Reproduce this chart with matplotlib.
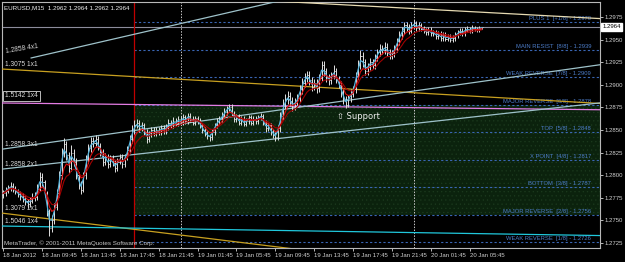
import matplotlib.pyplot as plt
import numpy as np
import pandas as pd

plt.rcParams['font.family'] = ['Liberation Sans', 'DejaVu Sans']
plt.rcParams['hatch.linewidth'] = 0.4

# EURUSD M15, bars from 18 Jan 2012 05:45, prices in points (1.2780 -> 12780)
close = [12780, 12783, 12786, 12788, 12785, 12782, 12779, 12777, 12774, 12771,
         12768, 12772, 12776, 12776, 12785, 12798, 12792, 12780, 12760, 12742,
         12750, 12765, 12780, 12800, 12825, 12835, 12822, 12808, 12825, 12815,
         12800, 12790, 12784, 12800, 12818, 12830, 12838, 12836, 12840, 12832,
         12826, 12815, 12820, 12812, 12818, 12814, 12808, 12815, 12820, 12812,
         12820, 12828, 12840, 12850, 12856, 12858, 12852, 12855, 12848, 12840,
         12845, 12850, 12846, 12850, 12848, 12852, 12849, 12853, 12858, 12855,
         12860, 12857, 12862, 12859, 12864, 12860, 12866, 12862, 12858, 12863,
         12860, 12855, 12850, 12846, 12843, 12842, 12848, 12855, 12860, 12862,
         12866, 12870, 12874, 12876, 12868, 12862, 12865, 12858, 12862, 12857,
         12860, 12864, 12858, 12862, 12860, 12864, 12866, 12858, 12852, 12855,
         12848, 12845, 12842, 12852, 12865, 12878, 12884, 12888, 12882, 12876,
         12880, 12885, 12895, 12902, 12908, 12911, 12905, 12898, 12902, 12896,
         12908, 12922, 12915, 12908, 12905, 12910, 12915, 12906, 12900, 12892,
         12884, 12878, 12885, 12890, 12895, 12910, 12922, 12932, 12925, 12915,
         12920, 12925, 12922, 12930, 12936, 12940, 12938, 12942, 12936, 12932,
         12935, 12940, 12948, 12955, 12960, 12966, 12964, 12960, 12966, 12968,
         12963, 12966, 12962, 12960, 12958, 12961, 12957, 12958, 12954, 12956,
         12952, 12955, 12951, 12953, 12950, 12952, 12955, 12958, 12960, 12957,
         12961, 12962, 12960, 12963, 12962, 12961, 12962, 12964]
high = [12784, 12787, 12789, 12792, 12791, 12788, 12785, 12782, 12780, 12777,
        12774, 12776, 12780, 12781, 12790, 12804, 12803, 12795, 12783, 12763,
        12756, 12769, 12785, 12805, 12830, 12841, 12838, 12826, 12833, 12829,
        12819, 12804, 12794, 12804, 12822, 12835, 12842, 12842, 12844, 12843,
        12836, 12829, 12825, 12823, 12822, 12822, 12817, 12819, 12824, 12823,
        12824, 12832, 12845, 12856, 12861, 12862, 12861, 12859, 12858, 12851,
        12849, 12853, 12853, 12853, 12853, 12855, 12855, 12857, 12862, 12861,
        12864, 12863, 12866, 12865, 12868, 12867, 12869, 12869, 12865, 12866,
        12866, 12863, 12858, 12853, 12849, 12846, 12851, 12858, 12863, 12866,
        12870, 12874, 12877, 12879, 12879, 12871, 12868, 12868, 12865, 12865,
        12863, 12867, 12867, 12865, 12865, 12867, 12869, 12868, 12861, 12858,
        12858, 12851, 12848, 12856, 12870, 12884, 12890, 12893, 12892, 12886,
        12885, 12890, 12900, 12907, 12913, 12915, 12915, 12909, 12906, 12906,
        12912, 12926, 12926, 12919, 12912, 12914, 12922, 12919, 12910, 12904,
        12896, 12888, 12889, 12895, 12899, 12914, 12927, 12938, 12936, 12929,
        12924, 12930, 12929, 12934, 12940, 12945, 12944, 12947, 12946, 12940,
        12939, 12944, 12952, 12959, 12964, 12970, 12969, 12967, 12970, 12972,
        12971, 12969, 12968, 12965, 12963, 12964, 12964, 12961, 12961, 12959,
        12959, 12958, 12958, 12956, 12956, 12955, 12958, 12961, 12963, 12963,
        12964, 12965, 12964, 12966, 12965, 12964, 12965, 12964]
low = [12775, 12777, 12780, 12783, 12781, 12779, 12776, 12773, 12770, 12767,
       12764, 12765, 12769, 12771, 12773, 12782, 12788, 12776, 12755, 12733,
       12737, 12746, 12761, 12776, 12796, 12820, 12817, 12803, 12805, 12810,
       12796, 12785, 12779, 12781, 12796, 12814, 12826, 12831, 12832, 12828,
       12821, 12810, 12811, 12808, 12809, 12810, 12804, 12805, 12812, 12808,
       12809, 12817, 12825, 12836, 12846, 12852, 12848, 12849, 12844, 12836,
       12837, 12842, 12843, 12843, 12845, 12845, 12846, 12846, 12850, 12852,
       12852, 12854, 12854, 12856, 12856, 12857, 12857, 12859, 12855, 12855,
       12857, 12852, 12847, 12843, 12840, 12838, 12839, 12845, 12852, 12857,
       12859, 12863, 12867, 12871, 12865, 12859, 12859, 12855, 12855, 12854,
       12854, 12857, 12855, 12855, 12857, 12857, 12861, 12855, 12848, 12849,
       12845, 12841, 12838, 12839, 12848, 12861, 12873, 12879, 12877, 12871,
       12872, 12876, 12881, 12890, 12898, 12903, 12900, 12893, 12894, 12891,
       12892, 12904, 12910, 12903, 12900, 12901, 12906, 12902, 12896, 12887,
       12879, 12874, 12875, 12881, 12886, 12891, 12906, 12918, 12920, 12911,
       12911, 12916, 12918, 12918, 12926, 12932, 12934, 12934, 12932, 12928,
       12928, 12931, 12936, 12944, 12951, 12956, 12960, 12956, 12957, 12963,
       12960, 12960, 12959, 12957, 12955, 12955, 12954, 12954, 12951, 12951,
       12949, 12949, 12948, 12948, 12947, 12947, 12949, 12952, 12955, 12954,
       12954, 12958, 12957, 12957, 12959, 12958, 12958, 12962]
first_open = 12778

xtick_bars = [0, 16, 32, 48, 64, 80, 96, 112, 128, 144, 160, 176, 192]
xtick_labels = ['18 Jan 2012', '18 Jan 09:45', '18 Jan 13:45', '18 Jan 17:45',
                '18 Jan 21:45', '19 Jan 01:45', '19 Jan 05:45', '19 Jan 09:45',
                '19 Jan 13:45', '19 Jan 17:45', '19 Jan 21:45', '20 Jan 01:45',
                '20 Jan 05:45']
ytick_vals = [1.2725, 1.2750, 1.2775, 1.2800, 1.2825, 1.2850, 1.2875,
              1.2900, 1.2925, 1.2950, 1.2975]

# Murrey math levels
mm_levels = [1.2970, 1.2939, 1.2909, 1.2878, 1.2848, 1.2817, 1.2787, 1.2756, 1.2726]
mm_names = ['PLUS 1  [+1/8]', 'MAIN RESIST  [8/8]', 'WEAK REVERSE  [7/8]',
            'MAJOR REVERSE  [6/8]', 'TOP  [5/8]', 'X POINT  [4/8]',
            'BOTTOM  [3/8]', 'MAJOR REVERSE  [2/8]', 'WEAK REVERSE  [1/8]']
mm_start_bar = 54
day_bars = [73, 169]
bid = 1.2964

# gann lines: (bar, price) -> (bar, price)
gann_names = ['1.2858 4x1', '1.3075 1x1', '1.5142 1x4', '1.2858 3x1',
              '1.2858 2x1', '1.3079 1x1', '1.5046 1x4', '']
gann_b0 = [11.5, -0.8, -0.8, 0.0, 0.0, -0.8, -0.8, 100.0]
gann_p0 = [1.29297, 1.29175, 1.28799, 1.28290, 1.28069, 1.27582, 1.27438, 1.29943]
gann_b1 = [115.2, 256.4, 256.4, 256.4, 256.4, 119.8, 256.4, 256.4]
gann_p1 = [1.29938, 1.28777, 1.28721, 1.29263, 1.28832, 1.27184, 1.27328, 1.29717]
gann_colors = ['#9ec2ca', '#c8a020', '#e47ce4', '#9ec2ca', '#9ec2ca',
               '#c8a020', '#20c8dc', '#e6dab2']

c = np.array(close) / 1e4
h = np.array(high) / 1e4
l = np.array(low) / 1e4
o = np.concatenate([[first_open / 1e4], c[:-1]])
x = np.arange(len(c))

fig = plt.figure(figsize=(6.25, 2.62), dpi=100, facecolor='black')
ax = fig.add_axes([2 / 625, 14 / 262, 598 / 625, 246 / 262], facecolor='black')
ax.set_xlim(-0.5, 245.6)
ax.set_ylim(1.27195, 1.29916)

# shaded range between 2/8 and 6/8
ax.fill_between([mm_start_bar, 246], mm_levels[7], mm_levels[3],
                facecolor='#0b220d', edgecolor='#1c3a1e', hatch='....', lw=0, zorder=0)

for lv, nm in zip(mm_levels, mm_names):
    ax.plot([mm_start_bar, 246], [lv, lv], color='#3a66b4', lw=0.8,
            ls=(0, (2, 2)), zorder=1)
    ax.annotate('%s - %.4f' % (nm, lv), xy=(0.985, lv), xycoords=('axes fraction', 'data'),
                xytext=(0, 0.6), textcoords='offset points', ha='right', va='bottom',
                fontsize=4.2, color='#4c7cc8', zorder=2)

ax.axhline(bid, color='#8c8c9c', lw=0.8, zorder=1)
ax.axvline(mm_start_bar, color='#c00000', lw=0.9, zorder=2)
for d in day_bars:
    ax.axvline(d, color='#c8c8c8', lw=0.7, ls=(0, (1.5, 1.5)), zorder=2)

for nm, b0, p0, b1, p1, col in zip(gann_names, gann_b0, gann_p0, gann_b1, gann_p1, gann_colors):
    ax.plot([b0, b1], [p0, p1], color=col, lw=0.9, zorder=3)

# gann labels at the left side
ax.text(0.8, gann_p0[0] + 0.00035, gann_names[0], fontsize=4.8, color='#d8d8d8',
        rotation=9, va='bottom', zorder=6)
ax.text(0.8, gann_p0[1] + 0.0001, gann_names[1], fontsize=4.8, color='#d8d8d8',
        va='bottom', zorder=6)
ax.text(0.8, gann_p0[2] + 0.0008, gann_names[2], fontsize=4.8, color='#d8d8d8',
        va='center', zorder=6,
        bbox=dict(facecolor='black', edgecolor='#d8d8d8', lw=0.6, pad=1.2))
for k in [3, 4, 5, 6]:
    ax.text(0.8, gann_p0[k] + 0.0001, gann_names[k], fontsize=4.8, color='#d8d8d8',
            va='bottom', zorder=6)

# bars
ax.vlines(x, l, h, color='#e0e0e0', lw=0.7, zorder=4)
ax.hlines(o, x - 0.45, x, color='#e0e0e0', lw=0.6, zorder=4)
ax.hlines(c, x, x + 0.45, color='#e0e0e0', lw=0.6, zorder=4)

s = pd.Series(c)
ax.plot(x, s.ewm(span=2).mean(), color='#58b4dc', lw=0.9, zorder=5)
ax.plot(x, s.ewm(span=5).mean(), color='#e01010', lw=0.8, zorder=5)
ax.plot(x, s.ewm(span=10).mean(), color='#a00000', lw=0.8, zorder=5)

ax.text(137.5, 1.28645, '\u21e7 Support', fontsize=6, color='#f0f0f0',
        va='center', ha='left', family=['DejaVu Sans'], zorder=7)

ax.text(0.003, 0.985, 'EURUSD,M15  1.2962 1.2964 1.2962 1.2964', transform=ax.transAxes,
        fontsize=4.5, color='#f0f0f0', va='top', ha='left', zorder=7)
ax.text(0.003, 0.008, 'MetaTrader, \u00a9 2001-2011 MetaQuotes Software Corp.',
        transform=ax.transAxes, fontsize=4.5, color='#c8c8c8', va='bottom', ha='left', zorder=7)

# axes styling
for sp in ax.spines.values():
    sp.set_color('#b8b8b8')
    sp.set_linewidth(0.8)
ax.yaxis.tick_right()
ax.set_yticks(ytick_vals)
ax.set_yticklabels(['%.4f' % v for v in ytick_vals])
ax.set_xticks(xtick_bars)
ax.set_xticklabels(xtick_labels, ha='left')
ax.tick_params(axis='both', colors='#b8b8b8', labelcolor='#d0d0d0', labelsize=4.3,
               length=2.2, width=0.7, pad=1.2)
ax.text(1.004, bid, '%.4f' % bid, transform=ax.get_yaxis_transform(), fontsize=4.3,
        color='black', va='center', ha='left', zorder=8,
        bbox=dict(facecolor='white', edgecolor='white', pad=0.8))

fig.savefig('out.png', dpi=100, facecolor='black')
